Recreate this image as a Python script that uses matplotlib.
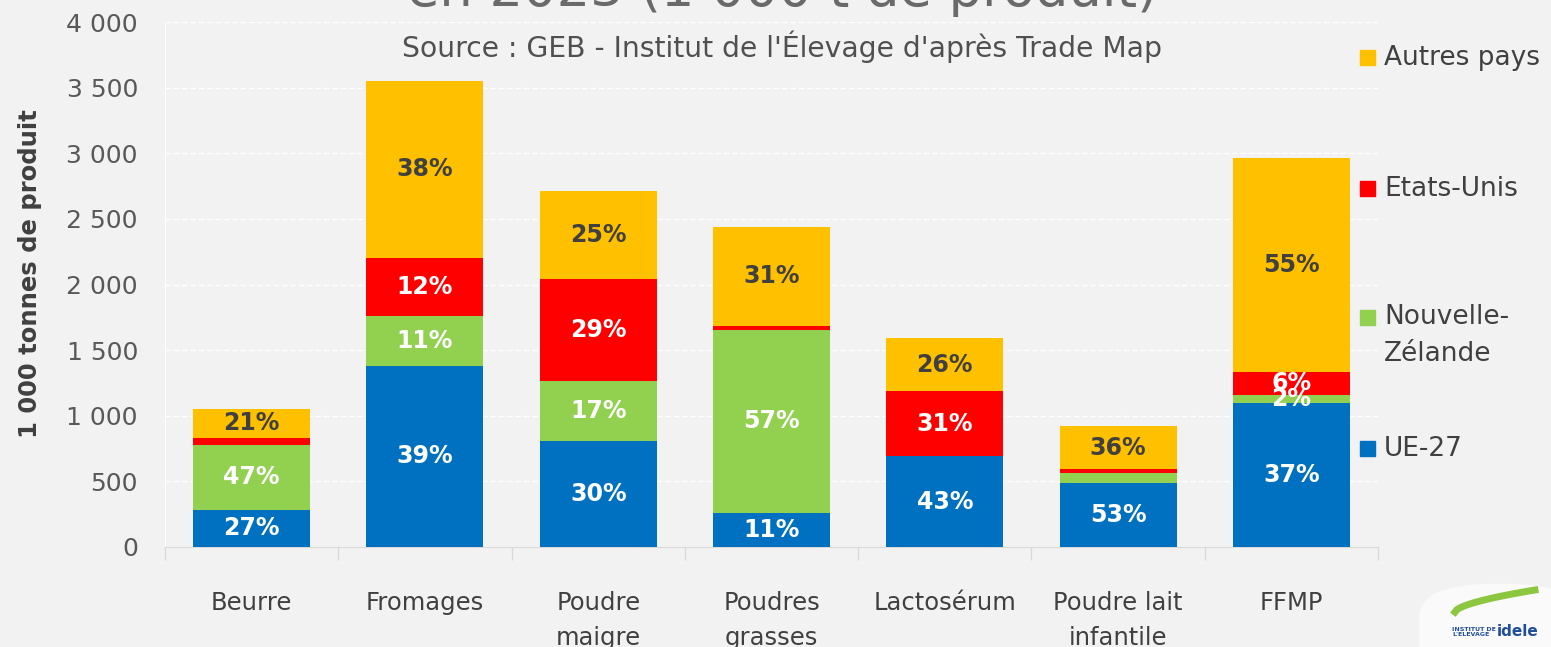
import matplotlib
matplotlib.use("Agg")
import matplotlib.pyplot as plt
from matplotlib.ticker import FuncFormatter, FixedLocator
from matplotlib.patches import Rectangle, FancyBboxPatch
import numpy as np

categories = ["Beurre", "Fromages", "Poudre\nmaigre", "Poudres\ngrasses",
              "Lactosérum", "Poudre lait\ninfantile", "FFMP"]

# 1 000 t de produit
ue27 = [284, 1382, 810, 262, 690, 488, 1100]
nz = [494, 380, 455, 1392, 5, 75, 58]
us = [55, 440, 777, 30, 490, 30, 176]
autres = [221, 1350, 670, 756, 410, 330, 1630]

ue27_lbl = ["27%", "39%", "30%", "11%", "43%", "53%", "37%"]
nz_lbl = ["47%", "11%", "17%", "57%", "", "", "2%"]
us_lbl = ["", "12%", "29%", "", "31%", "", "6%"]
autres_lbl = ["21%", "38%", "25%", "31%", "26%", "36%", "55%"]

series = [
    ("UE-27", ue27, ue27_lbl, "#0070C0", "white"),
    ("Nouvelle-\nZélande", nz, nz_lbl, "#92D050", "white"),
    ("Etats-Unis", us, us_lbl, "#FF0000", "white"),
    ("Autres pays", autres, autres_lbl, "#FFC000", "#404040"),
]

BG = "#F2F2F2"
plt.rcParams["font.family"] = "DejaVu Sans"

fig = plt.figure(figsize=(15.51, 6.47), dpi=100, facecolor=BG)
ax = fig.add_axes([165 / 1551, 1 - 547 / 647, 1213 / 1551, 525 / 647])
ax.set_facecolor(BG)

x = np.arange(len(categories))
bottom = np.zeros(len(categories))
for name, vals, lbls, col, tcol in series:
    vals = np.array(vals, dtype=float)
    ax.bar(x, vals, 0.675, bottom=bottom, color=col, zorder=3)
    for xi, b, v, t in zip(x, bottom, vals, lbls):
        if t:
            ax.text(xi, b + v / 2, t, ha="center", va="center", color=tcol,
                    fontsize=17, fontweight="bold", zorder=4)
    bottom += vals

ax.set_xlim(-0.5, len(categories) - 0.5)
ax.set_ylim(0, 4000)
ax.set_yticks(np.arange(0, 4001, 500))
ax.yaxis.set_major_formatter(FuncFormatter(lambda v, p: f"{int(v):,}".replace(",", " ")))
ax.set_xticks(x)
ax.set_xticklabels(categories, fontsize=17.5, color="#404040", linespacing=1.55)
ax.xaxis.set_minor_locator(FixedLocator(np.arange(-0.5, len(categories), 1.0)))
ax.tick_params(axis="x", which="major", length=0, pad=32)
ax.tick_params(axis="x", which="minor", length=9, color="#D9D9D9", width=1)
ax.tick_params(axis="y", length=0, labelsize=18, labelcolor="#595959", pad=19.5)

ax.grid(axis="y", color="white", linestyle=(0, (4, 2)), linewidth=1, zorder=0)
for s in ["top", "right"]:
    ax.spines[s].set_visible(False)
ax.spines["left"].set_color("white")
ax.spines["bottom"].set_color("#D9D9D9")

ax.set_ylabel("1 000 tonnes de produit", fontsize=17.5, fontweight="bold",
              color="#404040")
ax.yaxis.set_label_coords(-0.101, 0.52)

# titles (top line cut off like the source slide)
fig.text(782 / 1551, 1 - 6 / 647, "en 2023 (1 000 t de produit)", ha="center",
         va="baseline", fontsize=38, color="#6A6A6A")
fig.text(782 / 1551, 1 - 47 / 647, "Source : GEB - Institut de l'Élevage d'après Trade Map",
         ha="center", va="center", fontsize=20.3, color="#505050")

# legend on the right
leg_y = {"Autres pays": 58, "Etats-Unis": 189, "Nouvelle-\nZélande": 318, "UE-27": 449}
for name, vals, lbls, col, tcol in series:
    yy = leg_y[name]
    fig.patches.append(Rectangle((1360 / 1551, 1 - (yy + 7) / 647), 15 / 1551, 15 / 647,
                                 transform=fig.transFigure, color=col, figure=fig))
    if "\n" in name:
        fig.text(1384 / 1551, 1 - (yy - 14) / 647, name, ha="left", va="top",
                 fontsize=19, color="#404040", linespacing=1.55)
    else:
        fig.text(1384 / 1551, 1 - yy / 647, name, ha="left", va="center",
                 fontsize=19, color="#404040")

# idele logo, roughly
fig.patches.append(FancyBboxPatch((1420 / 1551, -0.05), 160 / 1551, 95 / 647,
                                  boxstyle="round,pad=0,rounding_size=0.05",
                                  transform=fig.transFigure, color="#FAFAFA", figure=fig))
t = np.linspace(0, 1, 50)
fig.lines.append(plt.Line2D((1455 + 80 * t) / 1551, 1 - (612 - 22 * t ** 0.6) / 647,
                            transform=fig.transFigure, color="#8DC63F", lw=5))
fig.text(1452 / 1551, 1 - 632 / 647, "INSTITUT DE\nL'ELEVAGE", fontsize=4.5, color="#1F4E9A",
         fontweight="bold", ha="left", va="center", linespacing=1.0)
fig.text(1538 / 1551, 1 - 632 / 647, "idele", fontsize=11, color="#1F4E9A",
         fontweight="bold", ha="right", va="center")

fig.savefig("out.png", dpi=100, facecolor=BG)
